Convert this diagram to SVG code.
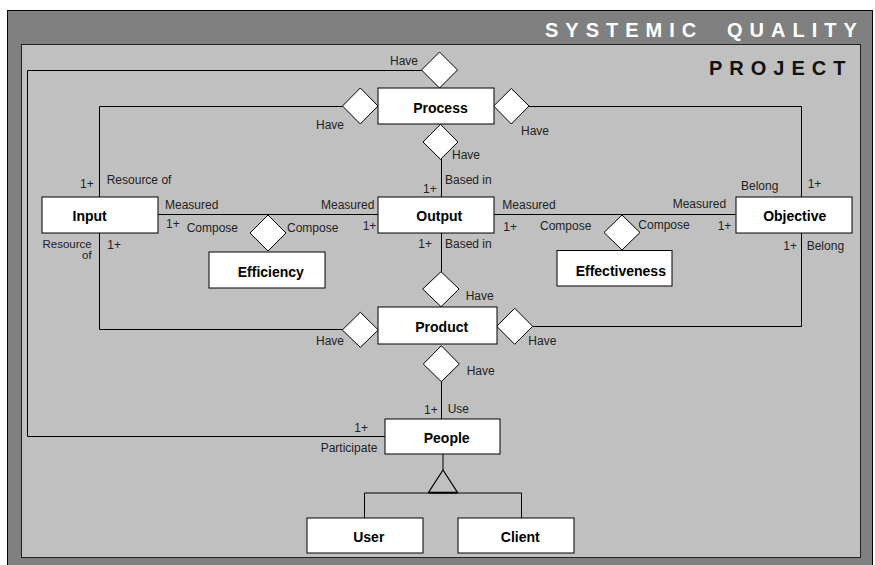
<svg xmlns="http://www.w3.org/2000/svg" width="875" height="565" viewBox="0 0 875 565">
<style>
.box{fill:#fff;stroke:#000;stroke-width:1}
.dia{fill:#fff;stroke:#000;stroke-width:1}
.ln{fill:none;stroke:#000;stroke-width:1}
.nt{font-family:"Liberation Sans",Arial,sans-serif;font-size:14px;font-weight:bold;fill:#000;text-anchor:middle}
.lb{font-family:"Liberation Sans",Arial,sans-serif;font-size:12px;fill:#222}
.ttl{font-family:"Liberation Sans",Arial,sans-serif;font-size:20px;font-weight:bold;letter-spacing:7px}
</style>
<rect x="7.5" y="10.5" width="865" height="560" fill="#808080" stroke="#000"/>
<rect x="21.5" y="44.5" width="839" height="513" fill="#c0c0c0" stroke="#222"/>
<text class="ttl" x="545" y="36.5" fill="#fff">SYSTEMIC</text>
<text class="ttl" x="727" y="36.5" fill="#fff">QUALITY</text>
<text class="ttl" x="709" y="75" fill="#111">PROJECT</text>

<g id="connectors">
<polyline class="ln" points="421.5,70.5 27.5,70.5 27.5,436.5 385,436.5"/>
<polyline class="ln" points="342.5,106.5 99.5,106.5 99.5,197"/>
<polyline class="ln" points="529,106.5 801.5,106.5 801.5,197"/>
<line class="ln" x1="441.5" y1="159" x2="441.5" y2="197"/>
<line class="ln" x1="158" y1="214.5" x2="378" y2="214.5"/>
<line class="ln" x1="494" y1="214.5" x2="736" y2="214.5"/>
<polyline class="ln" points="99.5,233 99.5,329.5 342.5,329.5"/>
<polyline class="ln" points="801.5,233 801.5,326.5 532.5,326.5"/>
<line class="ln" x1="441.5" y1="233" x2="441.5" y2="272"/>
<line class="ln" x1="441.5" y1="381.5" x2="441.5" y2="419"/>
<line class="ln" x1="443" y1="454" x2="443" y2="470"/>
<polygon points="443,470 428.5,492.5 457.5,492.5" fill="none" stroke="#000" stroke-width="1.2"/>
<line x1="428.5" y1="492.7" x2="457.5" y2="492.7" stroke="#000" stroke-width="2"/>
<polyline class="ln" points="364.5,518 364.5,493 521.5,493 521.5,518"/>
<polygon class="dia" points="421.5,70 439.5,52 457.5,70 439.5,88"/>
<polygon class="dia" points="342.5,106 360.3,88 378,106 360.3,124"/>
<polygon class="dia" points="493.7,106 511.3,88.5 529,106 511.3,124"/>
<polygon class="dia" points="423,142 440.5,124.3 458,142 440.5,159.3"/>
<polygon class="dia" points="250,233 268,215 286,233 268,251"/>
<polygon class="dia" points="604,232.5 622,215 640,232.5 622,250"/>
<polygon class="dia" points="422.7,289 441,271.7 459,289 441,306.7"/>
<polygon class="dia" points="342.3,330 360.3,312.3 378.3,330 360.3,347.3"/>
<polygon class="dia" points="496.7,326.3 514.7,308.3 532.7,326.3 514.7,344.3"/>
<polygon class="dia" points="423.3,364 441.3,345.7 459.3,364 441.3,381.7"/>
<text class="lb" x="390" y="65">Have</text>
<text class="lb" x="316" y="129.3">Have</text>
<text class="lb" x="521" y="135">Have</text>
<text class="lb" x="452" y="159">Have</text>
<text class="lb" x="445" y="184">Based in</text>
<text class="lb" x="423" y="192.5">1+</text>
<text class="lb" x="106.7" y="184.3">Resource of</text>
<text class="lb" x="80" y="188.3">1+</text>
<text class="lb" x="741" y="189.5">Belong</text>
<text class="lb" x="807.7" y="188.3">1+</text>
<text class="lb" x="165" y="209.3">Measured</text>
<text class="lb" x="166" y="228.3">1+</text>
<text class="lb" x="186.7" y="232">Compose</text>
<text class="lb" x="287" y="232">Compose</text>
<text class="lb" x="91.7" y="247.5" text-anchor="end" style="font-size:11.5px">Resource</text>
<text class="lb" x="91.7" y="259" text-anchor="end" style="font-size:11.5px">of</text>
<text class="lb" x="107.3" y="249">1+</text>
<text class="lb" x="321" y="209.3">Measured</text>
<text class="lb" x="362.7" y="230">1+</text>
<text class="lb" x="502.3" y="209.3">Measured</text>
<text class="lb" x="503.3" y="230.5">1+</text>
<text class="lb" x="540" y="229.7">Compose</text>
<text class="lb" x="418.3" y="248.3">1+</text>
<text class="lb" x="445" y="248.3">Based in</text>
<text class="lb" x="465.7" y="300">Have</text>
<text class="lb" x="316" y="345">Have</text>
<text class="lb" x="528.3" y="345">Have</text>
<text class="lb" x="466.7" y="375">Have</text>
<text class="lb" x="638.3" y="229.3">Compose</text>
<text class="lb" x="672.7" y="208.3">Measured</text>
<text class="lb" x="717.7" y="230">1+</text>
<text class="lb" x="783.3" y="250">1+</text>
<text class="lb" x="806.7" y="249.7">Belong</text>
<text class="lb" x="424" y="414.3">1+</text>
<text class="lb" x="447.7" y="413.3">Use</text>
<text class="lb" x="354.3" y="431.7">1+</text>
<text class="lb" x="320.7" y="452">Participate</text>
</g>

<g id="process"><rect class="box" x="378" y="88" width="116" height="36"/><text class="nt" x="440.5" y="113">Process</text></g>
<g id="input"><rect class="box" x="42" y="197" width="116" height="36"/><text class="nt" x="89.7" y="221">Input</text></g>
<g id="output"><rect class="box" x="378" y="197" width="116" height="36"/><text class="nt" x="439.3" y="221">Output</text></g>
<g id="objective"><rect class="box" x="736" y="197" width="116" height="36"/><text class="nt" x="794.7" y="221">Objective</text></g>
<g id="efficiency"><rect class="box" x="209" y="252" width="116" height="36"/><text class="nt" x="270.8" y="277.3">Efficiency</text></g>
<g id="effectiveness"><rect class="box" x="557" y="250.5" width="115" height="35.5"/><text class="nt" x="620.8" y="275.7">Effectiveness</text></g>
<g id="product"><rect class="box" x="378" y="307" width="119" height="37"/><text class="nt" x="441.7" y="331.7">Product</text></g>
<g id="people"><rect class="box" x="385" y="419" width="115" height="35"/><text class="nt" x="446.7" y="443.3">People</text></g>
<g id="user"><rect class="box" x="307" y="518" width="116" height="35"/><text class="nt" x="368.8" y="541.7">User</text></g>
<g id="client"><rect class="box" x="458" y="518" width="116" height="35"/><text class="nt" x="520.3" y="541.7">Client</text></g>
</svg>
